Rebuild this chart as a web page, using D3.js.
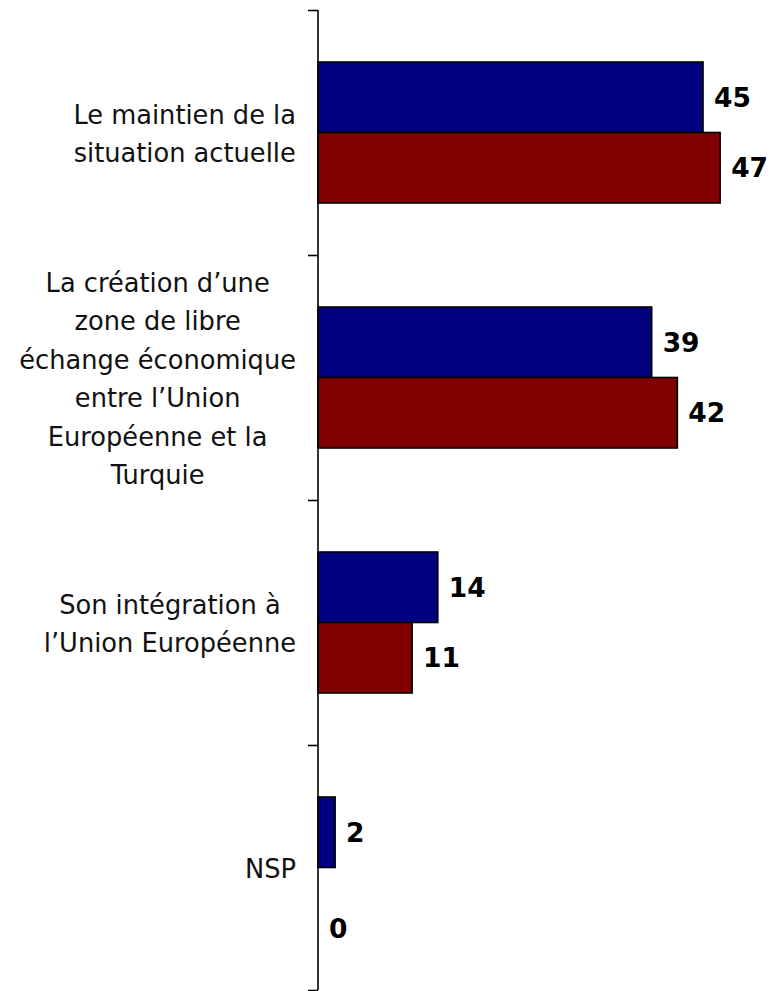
<!DOCTYPE html>
<html>
<head>
<meta charset="utf-8">
<script src="https://cdn.jsdelivr.net/npm/d3@7"></script>
<style>
  html, body { margin: 0; padding: 0; background: #fff; }
  svg { display: block; }
</style>
</head>
<body>
<svg id="chart" width="772" height="991"></svg>
<script>
// Categories (each label split into its display lines)
const categories = [
  "Le maintien de la situation actuelle",
  "La création d'une zone de libre échange économique entre l'Union Européenne et la Turquie",
  "Son intégration à l'Union Européenne",
  "NSP"
];
const categoryLines = [
  ["Le maintien de la", "situation actuelle"],
  ["La création d\u2019une", "zone de libre", "échange économique", "entre l\u2019Union", "Européenne et la", "Turquie"],
  ["Son intégration à", "l\u2019Union Européenne"],
  ["NSP"]
];
const seriesNames = ["Série 1", "Série 2"];
const series1 = [45, 39, 14, 2];
const series2 = [47, 42, 11, 0];
const seriesColors = ["#000080", "#800000"];

const svg = d3.select("#chart");
const axisX = 318, plotTop = 10, plotBottom = 990;

const y0 = d3.scaleBand().domain(categories).range([plotTop, plotBottom]).padding(0);
const y1 = d3.scaleBand().domain(seriesNames).range([0, y0.bandwidth()])
  .paddingInner(0).paddingOuter(0.7376);
const x = d3.scaleLinear().domain([0, 50]).range([axisX, axisX + 427.8]);

const rows = categories.map((c, i) => ({
  cat: c, lines: categoryLines[i],
  vals: [series1[i], series2[i]]
}));

// Bars
const g = svg.append("g");
rows.forEach(r => {
  r.vals.forEach((v, s) => {
    const yy = y0(r.cat) + y1(seriesNames[s]);
    if (v > 0) {
      g.append("rect")
        .attr("x", x(0))
        .attr("y", yy)
        .attr("width", x(v) - x(0))
        .attr("height", y1.bandwidth())
        .attr("fill", seriesColors[s])
        .attr("stroke", "#000")
        .attr("stroke-width", 1.6);
    }
    // value label
    g.append("text")
      .attr("x", x(v) + 11)
      .attr("y", yy + y1.bandwidth() / 2 + (v === 0 ? 26 : 0))
      .attr("dy", "0.36em")
      .attr("font-family", "DejaVu Sans, Verdana, sans-serif")
      .attr("font-weight", "bold")
      .attr("font-size", 26.5)
      .attr("fill", "#000")
      .text(v);
  });
});

// Vertical category axis with ticks at band boundaries
const axis = d3.axisLeft(d3.scaleLinear().domain([0, categories.length]).range([plotTop, plotBottom]))
  .ticks(categories.length)
  .tickSize(10)
  .tickFormat("");
const axG = svg.append("g").attr("transform", `translate(${axisX},0)`).call(axis);
axG.select(".domain").attr("d", `M0,${plotTop}V${plotBottom}`).attr("stroke", "#000").attr("stroke-width", 1.6);
axG.selectAll(".tick line").attr("stroke", "#000").attr("stroke-width", 1.6);

// Category labels: block right-aligned, lines centred within the block
const labelRight = 296, lineH = 38.5;
const lg = svg.append("g")
  .attr("font-family", "DejaVu Sans, Verdana, sans-serif")
  .attr("font-size", 25.7)
  .attr("fill", "#111");
rows.forEach(r => {
  const cy = y0(r.cat) + y0.bandwidth() / 2 + 1;
  const t = lg.append("text").attr("text-anchor", "middle");
  const n = r.lines.length;
  const spans = r.lines.map((ln, k) => t.append("tspan")
    .attr("y", cy + (k - (n - 1) / 2) * lineH)
    .attr("dy", "0.36em")
    .text(ln));
  let maxW = 0;
  spans.forEach(sp => { maxW = Math.max(maxW, sp.node().getComputedTextLength()); });
  spans.forEach(sp => sp.attr("x", labelRight - maxW / 2));
});
</script>
</body>
</html>
